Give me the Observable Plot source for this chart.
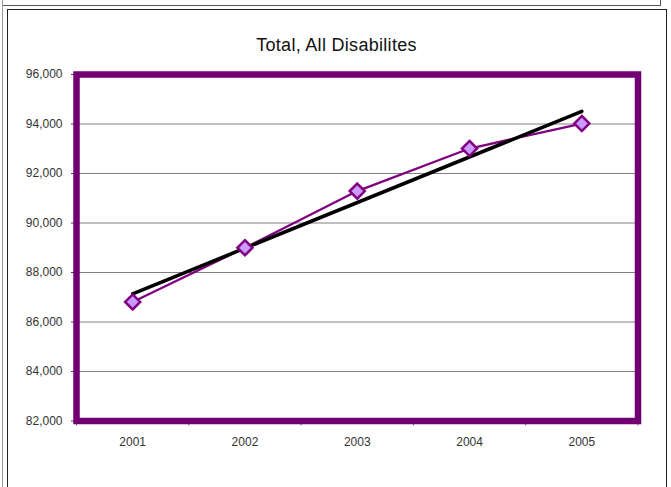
<!DOCTYPE html>
<html>
<head>
<meta charset="utf-8">
<script src="https://cdn.jsdelivr.net/npm/d3@7"></script>
<script src="https://cdn.jsdelivr.net/npm/@observablehq/plot@0.6"></script>
<style>
  html, body { margin: 0; padding: 0; background: #fff; }
  body { width: 671px; height: 487px; overflow: hidden; position: relative; font-family: "Liberation Sans", Arial, sans-serif; }
  #chart { position: absolute; left: 0; top: 0; }
  .box { position: absolute; box-sizing: border-box; pointer-events: none; }
  #title { position: absolute; left: 7px; width: 659px; top: 35px; text-align: center; font-size: 18px; letter-spacing: 0.3px; color: #111; }
</style>
</head>
<body>
<div id="chart"></div>
<div class="box" style="left:2px; top:-10px; width:659px; height:16px; border:1px solid #555;"></div>
<div class="box" style="left:2px; top:0px; width:1px; height:487px; border-left:1px solid #999;"></div>
<div class="box" style="left:7px; top:9px; width:660px; height:500px; border:1.5px solid #222;"></div>
<div id="title">Total, All Disabilites</div>
<script>
const years = [2001, 2002, 2003, 2004, 2005];
const totals = [86810, 89000, 91290, 93010, 94020];
const yTicks = [82000, 84000, 86000, 88000, 90000, 92000, 94000, 96000];

const data = years.map((year, i) => ({year, total: totals[i]}));
const boundaries = [years[0] - 0.5, ...years.map(y => y + 0.5)];

const plot = Plot.plot({
  width: 671,
  height: 487,
  marginLeft: 76,
  marginRight: 33.5,
  marginTop: 74,
  marginBottom: 66.5,
  style: {background: "none", fontFamily: "'Liberation Sans', Arial, sans-serif", color: "#333"},
  x: {type: "linear", domain: [years[0] - 0.5, years[years.length - 1] + 0.5]},
  y: {domain: [yTicks[0], yTicks[yTicks.length - 1]]},
  marks: [
    Plot.gridY(yTicks, {stroke: "#808080", strokeOpacity: 1, strokeWidth: 1}),
    Plot.axisY({ticks: yTicks, tickFormat: d3.format(","), tickSize: 5, tickPadding: 9, fontSize: 12, label: null, stroke: "#444", style: {letterSpacing: "0.5px"}}),
    Plot.axisX({ticks: boundaries, tickFormat: () => "", tickSize: 5, stroke: "#666", label: null}),
    Plot.axisX({ticks: years, tickFormat: d => String(d), tickSize: 0, tickPadding: 16, fontSize: 12, label: null, style: {letterSpacing: "0.5px"}}),
    Plot.frame({stroke: "#720072", strokeWidth: 6.5}),
    Plot.line(data, {x: "year", y: "total", stroke: "#800080", strokeWidth: 2.3}),
    Plot.linearRegressionY(data, {x: "year", y: "total", stroke: "#000", strokeWidth: 3.5, ci: 0}),
    Plot.dot(data, {x: "year", y: "total", symbol: "diamond2", r: 6.8, fill: "#CC99FF", stroke: "#800080", strokeWidth: 2.5})
  ]
});
document.getElementById("chart").appendChild(plot);
</script>
</body>
</html>
